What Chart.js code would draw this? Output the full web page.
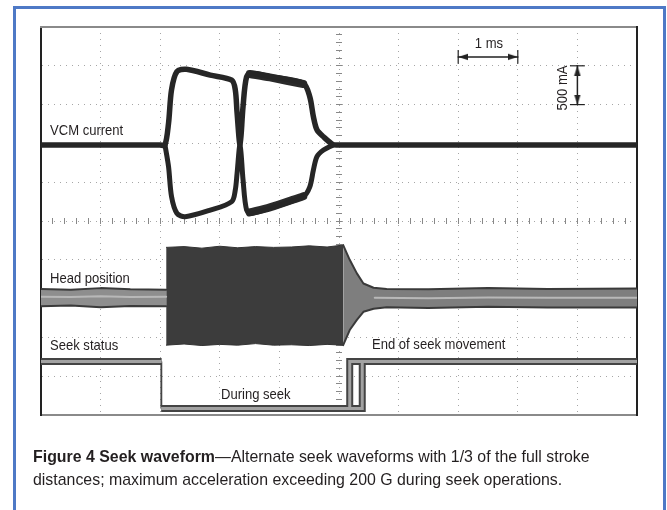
<!DOCTYPE html>
<html><head><meta charset="utf-8">
<script src="https://cdn.jsdelivr.net/npm/chart.js@4/dist/chart.umd.min.js"></script>
<style>
html,body{margin:0;padding:0;background:#fff;}
body{width:667px;height:510px;overflow:hidden;position:relative;font-family:"Liberation Sans",Arial,sans-serif;color:#231f20;}
#frame{position:absolute;left:13px;top:6px;width:647px;height:600px;border:3px solid #4e79c6;}
#c{position:absolute;left:0;top:0;}
.lbl{position:absolute;font-size:15px;line-height:15px;white-space:nowrap;transform:scaleX(0.87);transform-origin:0 0;}
#cap{position:absolute;left:33px;top:445px;font-size:17px;line-height:23px;white-space:nowrap;transform:scaleX(0.935);transform-origin:0 0;}
</style></head>
<body>
<div id="frame"></div>
<canvas id="c" width="667" height="510"></canvas>
<div class="lbl" style="left:50px;top:122px">VCM current</div>
<div class="lbl" style="left:50px;top:270px">Head position</div>
<div class="lbl" style="left:50px;top:337px">Seek status</div>
<div class="lbl" style="left:221px;top:386px">During seek</div>
<div class="lbl" style="left:372px;top:336px">End of seek movement</div>
<div class="lbl" style="left:489px;top:35px;transform:translateX(-50%) scaleX(0.87);transform-origin:50% 50%">1 ms</div>
<div class="lbl" style="left:561px;top:88px;transform:translate(-50%,-50%) rotate(-90deg) scaleX(0.87);transform-origin:50% 50%">500 mA</div>
<div id="cap"><b>Figure 4 Seek waveform</b>—Alternate seek waveforms with 1/3 of the full stroke<br>distances; maximum acceleration exceeding 200 G during seek operations.</div>
<script>
// time in ms (1 ms per division), vertical in screen divisions (VCM: 500 mA/div)
const vcmUpperT = [0, 1.0, 2.0, 2.08, 2.14, 2.19, 2.28, 2.44, 2.84, 3.2, 3.26, 3.29, 3.34, 3.39, 3.45, 3.54, 3.84, 4.4, 4.51, 4.57, 4.63, 4.74, 4.9, 5.0, 6.0, 10];
const vcmUpperY = [1.96, 1.96, 1.96, 1.96, 2.52, 3.38, 3.85, 3.91, 3.76, 3.63, 3.38, 2.78, 1.97, 2.95, 3.72, 3.81, 3.72, 3.55, 3.2, 2.69, 2.35, 2.17, 1.97, 1.96, 1.96, 1.96];
const vcmLowerT = [2.08, 2.14, 2.19, 2.28, 2.42, 2.84, 3.2, 3.26, 3.29, 3.34, 3.39, 3.45, 3.54, 3.84, 4.4, 4.51, 4.57, 4.63, 4.74, 4.9];
const vcmLowerY = [1.96, 1.4, 0.63, 0.2, 0.11, 0.28, 0.5, 0.8, 1.23, 1.97, 1.06, 0.28, 0.2, 0.33, 0.63, 0.88, 1.31, 1.66, 1.83, 1.96];
// thicker (noisier) flat tops of the second pulse
const vcmLobe2T = [3.5, 3.84, 4.4];
const vcmLobe2Upper = [3.79, 3.7, 3.53];
const vcmLobe2Lower = [0.22, 0.35, 0.64];

const headPreT = [0, 0.5, 1.0, 1.5, 2.1];
const headPreTop = [-1.75, -1.77, -1.73, -1.76, -1.77];
const headPreBot = [-2.2, -2.18, -2.22, -2.19, -2.2];
const headPreMid = [-1.95, -1.96, -1.94, -1.96, -1.95];

const headBlkT = [2.1, 2.4, 2.7, 3.0, 3.3, 3.6, 3.9, 4.2, 4.5, 4.8, 5.07];
const headBlkTop = [-0.68, -0.66, -0.7, -0.65, -0.69, -0.66, -0.68, -0.67, -0.64, -0.67, -0.62];
const headBlkBot = [-3.2, -3.17, -3.21, -3.18, -3.2, -3.16, -3.2, -3.19, -3.21, -3.18, -3.2];

const headPostT = [5.07, 5.18, 5.3, 5.41, 5.58, 5.8, 6.5, 7.5, 8.5, 10];
const headPostTop = [-0.62, -1.0, -1.35, -1.61, -1.72, -1.75, -1.76, -1.73, -1.75, -1.74];
const headPostBot = [-3.2, -2.81, -2.55, -2.34, -2.26, -2.22, -2.24, -2.21, -2.23, -2.23];
const headPostMidT = [5.6, 6.5, 7.5, 8.5, 10];
const headPostMid = [-1.98, -1.99, -1.97, -1.98, -1.98];

const seekAT = [0, 2.02, 2.02, 5.18, 5.18, 10];
const seekAY = [-3.62, -3.62, -4.83, -4.83, -3.62, -3.62];
const seekBT = [0, 2.02, 2.02, 5.39, 5.39, 10];
const seekBY = [-3.62, -3.62, -4.83, -4.83, -3.62, -3.62];

const msMarkerT = [7, 8];      // 1 ms scale marker
const msMarkerY = 4.23;
const mAMarkerT = 9;           // 500 mA scale marker (1 div)
const mAMarkerY = [3, 4];

function pts(T, Y) { return T.map((t, i) => ({x: t, y: Array.isArray(Y) ? Y[i] : Y})); }

function makeHead() {
  const c = document.createElement('canvas');
  c.width = 20; c.height = 8;
  const g = c.getContext('2d');
  g.fillStyle = '#222';
  g.beginPath(); g.moveTo(10, 4); g.lineTo(20, 0.8); g.lineTo(20, 7.2); g.closePath(); g.fill();
  return c;
}
const head = makeHead();

function seekOuterWidth(c) {
  return (c.p0.parsed.x === c.p1.parsed.x && c.p0.parsed.x < 3) ? 1.5 : 7;
}
function seekInnerColor(c) {
  return (c.p0.parsed.x === c.p1.parsed.x && c.p0.parsed.x < 3) ? 'rgba(0,0,0,0)' : '#a2a2a2';
}

const base = {xAxisID: 'x', yAxisID: 'y', pointRadius: 0, tension: 0, fill: false, borderJoinStyle: 'round', borderCapStyle: 'round'};
const ds = [
  Object.assign({}, base, {data: pts(headPreT, headPreTop), borderColor: '#3a3a3a', borderWidth: 2, order: 6}),
  Object.assign({}, base, {data: pts(headPreT, headPreBot), borderColor: '#3a3a3a', borderWidth: 2, fill: '-1', backgroundColor: '#8e8e8e', order: 6}),
  Object.assign({}, base, {data: pts(headBlkT, headBlkTop), borderColor: '#333', borderWidth: 1, order: 6}),
  Object.assign({}, base, {data: pts(headBlkT, headBlkBot), borderColor: '#333', borderWidth: 1, fill: '-1', backgroundColor: '#3c3c3c', order: 6}),
  Object.assign({}, base, {data: pts(headPostT, headPostTop), borderColor: '#3a3a3a', borderWidth: 2, order: 6}),
  Object.assign({}, base, {data: pts(headPostT, headPostBot), borderColor: '#3a3a3a', borderWidth: 2, fill: '-1', backgroundColor: '#7e7e7e', order: 6}),
  Object.assign({}, base, {data: pts(headPreT, headPreMid), borderColor: '#b8b8b8', borderWidth: 2, order: 5}),
  Object.assign({}, base, {data: pts(headPostMidT, headPostMid), borderColor: '#b8b8b8', borderWidth: 2, order: 5}),
  Object.assign({}, base, {data: pts(vcmUpperT, vcmUpperY), borderColor: '#262626', borderWidth: 5.5, tension: 0.3, order: 3}),
  Object.assign({}, base, {data: pts(vcmLowerT, vcmLowerY), borderColor: '#262626', borderWidth: 5, tension: 0.3, order: 3}),
  Object.assign({}, base, {data: pts(vcmLobe2T, vcmLobe2Upper), borderColor: '#2a2a2a', borderWidth: 8, tension: 0.3, order: 3}),
  Object.assign({}, base, {data: pts(vcmLobe2T, vcmLobe2Lower), borderColor: '#2a2a2a', borderWidth: 8, tension: 0.3, order: 3}),
  Object.assign({}, base, {data: pts(seekAT, seekAY), borderColor: '#444', borderWidth: 7, borderJoinStyle: 'miter', borderCapStyle: 'butt', order: 4,
    segment: {borderWidth: seekOuterWidth}}),
  Object.assign({}, base, {data: pts(seekBT, seekBY), borderColor: '#444', borderWidth: 7, borderJoinStyle: 'miter', borderCapStyle: 'butt', order: 4,
    segment: {borderWidth: seekOuterWidth}}),
  Object.assign({}, base, {data: pts(seekAT, seekAY), borderColor: '#a2a2a2', borderWidth: 3, borderJoinStyle: 'miter', borderCapStyle: 'butt', order: 2,
    segment: {borderColor: seekInnerColor}}),
  Object.assign({}, base, {data: pts(seekBT, seekBY), borderColor: '#a2a2a2', borderWidth: 3, borderJoinStyle: 'miter', borderCapStyle: 'butt', order: 2,
    segment: {borderColor: seekInnerColor}}),
  Object.assign({}, base, {data: pts(msMarkerT, msMarkerY), borderColor: '#222', borderWidth: 1.5, pointRadius: 1, pointStyle: head, pointRotation: [0, 180], order: 1}),
  Object.assign({}, base, {data: [{x: msMarkerT[0], y: msMarkerY - 0.18}, {x: msMarkerT[0], y: msMarkerY + 0.18}], borderColor: '#222', borderWidth: 1.2, borderCapStyle: 'butt', order: 1}),
  Object.assign({}, base, {data: [{x: msMarkerT[1], y: msMarkerY - 0.18}, {x: msMarkerT[1], y: msMarkerY + 0.18}], borderColor: '#222', borderWidth: 1.2, borderCapStyle: 'butt', order: 1}),
  Object.assign({}, base, {data: pts([mAMarkerT, mAMarkerT], mAMarkerY), borderColor: '#222', borderWidth: 1.5, pointRadius: 1, pointStyle: head, pointRotation: [270, 90], order: 1}),
  Object.assign({}, base, {data: [{x: mAMarkerT - 0.125, y: mAMarkerY[0]}, {x: mAMarkerT + 0.125, y: mAMarkerY[0]}], borderColor: '#222', borderWidth: 1.2, borderCapStyle: 'butt', order: 1}),
  Object.assign({}, base, {data: [{x: mAMarkerT - 0.125, y: mAMarkerY[1]}, {x: mAMarkerT + 0.125, y: mAMarkerY[1]}], borderColor: '#222', borderWidth: 1.2, borderCapStyle: 'butt', order: 1})
];

const gridDash = [1, 5];
new Chart(document.getElementById('c'), {
  type: 'line',
  data: {datasets: ds},
  options: {
    responsive: false, animation: false, devicePixelRatio: 1,
    layout: {padding: {left: 41, right: 30, top: 27, bottom: 95}},
    plugins: {legend: {display: false}, tooltip: {enabled: false}},
    scales: {
      x: {type: 'linear', position: 'bottom', min: 0, max: 10,
          ticks: {display: false, stepSize: 1},
          grid: {color: '#a6a6a6', lineWidth: 1, drawTicks: false},
          border: {display: true, color: '#8a8a8a', width: 2, dash: gridDash}},
      y: {type: 'linear', position: 'left', min: -5, max: 5,
          ticks: {display: false, stepSize: 1},
          grid: {color: '#a6a6a6', lineWidth: 1, drawTicks: false},
          border: {display: true, color: '#222', width: 2, dash: gridDash}},
      x2: {type: 'linear', position: 'top', min: 0, max: 10,
           ticks: {display: false}, grid: {display: false, drawTicks: false},
           border: {display: true, color: '#8a8a8a', width: 2}},
      y2: {type: 'linear', position: 'right', min: -5, max: 5,
           ticks: {display: false}, grid: {display: false, drawTicks: false},
           border: {display: true, color: '#222', width: 2}},
      xc1: {type: 'linear', axis: 'x', position: {y: 0}, min: 0, max: 10,
            ticks: {display: false, stepSize: 0.2, autoSkip: false, maxTicksLimit: 1000},
            grid: {drawOnChartArea: false, drawTicks: true, tickLength: 3, tickColor: '#888', tickWidth: 1},
            border: {display: false}},
      xc2: {type: 'linear', axis: 'x', position: {y: 0}, min: 0, max: 10,
            ticks: {display: false, stepSize: 0.2, autoSkip: false, maxTicksLimit: 1000},
            grid: {drawOnChartArea: false, drawTicks: true, tickLength: -3, tickColor: '#888', tickWidth: 1},
            border: {display: false}},
      yc1: {type: 'linear', axis: 'y', position: {x: 5}, min: -5, max: 5,
            ticks: {display: false, stepSize: 0.2, autoSkip: false, maxTicksLimit: 1000},
            grid: {drawOnChartArea: false, drawTicks: true, tickLength: 3, tickColor: '#888', tickWidth: 1},
            border: {display: false}},
      yc2: {type: 'linear', axis: 'y', position: {x: 5}, min: -5, max: 5,
            ticks: {display: false, stepSize: 0.2, autoSkip: false, maxTicksLimit: 1000},
            grid: {drawOnChartArea: false, drawTicks: true, tickLength: -3, tickColor: '#888', tickWidth: 1},
            border: {display: false}}
    }
  }
});
</script>
</body></html>
